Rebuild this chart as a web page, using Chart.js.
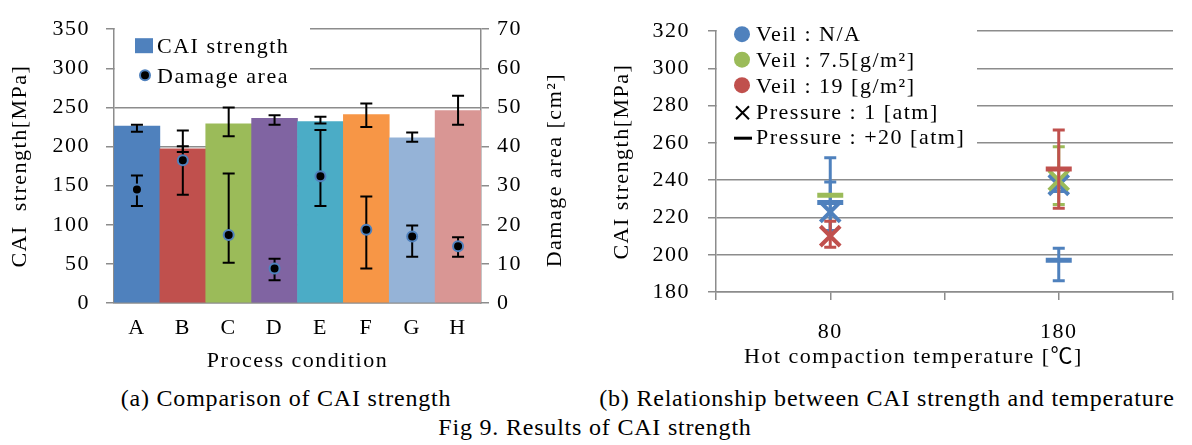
<!DOCTYPE html>
<html>
<head>
<meta charset="utf-8">
<script src="https://cdn.jsdelivr.net/npm/chart.js@4.4.1/dist/chart.umd.min.js"></script>
<style>
  html, body { margin: 0; padding: 0; background: #fff; }
  #page { position: relative; width: 1192px; height: 445px; overflow: hidden; background: #fff; }
  canvas { position: absolute; top: 0; }
  #cai { left: 0; }
  #temp { left: 585px; }
  .cap {
    position: absolute; transform: translateX(-50%); white-space: nowrap;
    font: 24px 'Liberation Serif', serif; letter-spacing: 0.8px; line-height: 26px; color: #000;
  }
</style>
</head>
<body>
<div id="page">
  <canvas id="cai" width="585" height="380"></canvas>
  <canvas id="temp" width="607" height="380"></canvas>
  <div class="cap" style="left:286px; top:385px">(a) Comparison of CAI strength</div>
  <div class="cap" style="left:887px; top:385px">(b) Relationship between CAI strength and temperature</div>
  <div class="cap" style="left:595px; top:414px">Fig 9. Results of CAI strength</div>
</div>
<script>
// (a) CAI strength for each process condition, damage area on the second axis
const conditions = ['A', 'B', 'C', 'D', 'E', 'F', 'G', 'H'];
const caiStrength = [226, 197, 229, 236, 232, 241, 211, 246];
const caiHigh = [228, 200.5, 250, 240, 238, 255, 218, 265];
const caiLow = [219, 193, 213, 228, 229.5, 225, 206, 228];
const damageArea = [29, 36.5, 17.4, 8.8, 32.4, 18.7, 17, 14.5];
const damageHigh = [32.6, 44.1, 33.1, 11.3, 44.2, 27.2, 19.8, 16.8];
const damageLow = [24.8, 27.7, 10.3, 5.8, 24.8, 8.8, 11.8, 11.8];

// (b) CAI strength against hot compaction temperature
const temps = [80, 180];
const naAtm1 = [223, 237.5];
const naAtm1High = [239, 241];
const naAtm1Low = [213, 234];
const naAtm20 = [228, 197];
const naAtm20High = [252, 203.5];
const naAtm20Low = [213, 186];
const veil75Atm1 = [null, 240];
const veil75Atm1High = [null, 258];
const veil75Atm1Low = [null, 227];
const veil75Atm20 = [232, null];
const veil19Atm1 = [210, null];
const veil19Atm1High = [218, null];
const veil19Atm1Low = [204, null];
const veil19Atm20 = [null, 246];
const veil19Atm20High = [null, 267];
const veil19Atm20Low = [null, 225];

const veilLabels = ['Veil : N/A', 'Veil : 7.5[g/m²]', 'Veil : 19 [g/m²]'];
const pressureLabels = ['Pressure : 1 [atm]', 'Pressure : +20 [atm]'];

const BLUE = '#4F81BD', RED = '#C0504D', GREEN = '#9BBB59';
const barColors = [BLUE, RED, GREEN, '#8064A2', '#4BACC6', '#F79646', '#95B3D7', '#D99694'];
const GRAY = '#8c8c8c';
const FAMILY = "'Liberation Serif', 'Noto Sans CJK JP', serif";
const FONT = "22px " + FAMILY;

Chart.defaults.font.family = FAMILY;
Chart.defaults.font.size = 22;
Chart.defaults.color = '#000';

// wide letter spacing for every text on the canvases
const spacing = {
  id: 'spacing',
  beforeUpdate(chart) { chart.ctx.letterSpacing = '1.5px'; },
  beforeDraw(chart) { chart.ctx.letterSpacing = '1.5px'; }
};

function drawErrors(chart, index) {
  const ds = chart.data.datasets[index];
  const eb = ds.errorBars;
  const meta = chart.getDatasetMeta(index);
  const yScale = chart.scales[meta.yAxisID];
  const ctx = chart.ctx;
  ctx.save();
  ctx.strokeStyle = eb.color;
  ctx.lineWidth = eb.width;
  meta.data.forEach((el, i) => {
    const hi = eb.hi[i], lo = eb.lo[i];
    if (hi == null || lo == null) return;
    const x = el.x;
    const y1 = yScale.getPixelForValue(hi);
    const y2 = yScale.getPixelForValue(lo);
    ctx.beginPath();
    ctx.moveTo(x, y1); ctx.lineTo(x, y2);
    ctx.moveTo(x - eb.cap, y1); ctx.lineTo(x + eb.cap, y1);
    ctx.moveTo(x - eb.cap, y2); ctx.lineTo(x + eb.cap, y2);
    ctx.stroke();
  });
  ctx.restore();
}

const errorBars = {
  id: 'errorBars',
  beforeDatasetDraw(chart, args) {
    const eb = chart.data.datasets[args.index].errorBars;
    if (eb && !eb.front) drawErrors(chart, args.index);
  },
  afterDatasetDraw(chart, args) {
    const eb = chart.data.datasets[args.index].errorBars;
    if (eb && eb.front) drawErrors(chart, args.index);
  }
};

const caiLegend = {
  id: 'caiLegend',
  beforeDatasetsDraw(chart) {
    const { ctx, chartArea: a } = chart;
    const [pts, bars] = chart.data.datasets;
    ctx.save();
    ctx.fillStyle = '#fff';
    ctx.fillRect(a.left + 1, a.top - 8, 195, 76);
    ctx.fillStyle = bars.backgroundColor[0];
    ctx.fillRect(a.left + 21, a.top + 9, 18, 15);
    ctx.beginPath();
    ctx.arc(a.left + 31, a.top + 46, 5, 0, Math.PI * 2);
    ctx.fillStyle = '#000';
    ctx.fill();
    ctx.lineWidth = 2;
    ctx.strokeStyle = BLUE;
    ctx.stroke();
    ctx.font = FONT;
    ctx.fillStyle = '#000';
    ctx.textBaseline = 'alphabetic';
    ctx.fillText(bars.label, a.left + 43, a.top + 24);
    ctx.fillText(pts.label, a.left + 43, a.top + 54);
    ctx.restore();
  },
  afterDraw(chart) {
    // right axis title reads bottom to top like the left one
    const { ctx, chartArea: a } = chart;
    const s = chart.scales.y2;
    ctx.save();
    ctx.font = FONT;
    ctx.fillStyle = '#000';
    ctx.translate(s.right - 30, (a.top + a.bottom) / 2 + 4);
    ctx.rotate(-Math.PI / 2);
    ctx.textAlign = 'center';
    ctx.textBaseline = 'middle';
    ctx.fillText('Damage area [cm²]', 0, 0);
    ctx.restore();
  }
};

new Chart(document.getElementById('cai'), {
  type: 'bar',
  data: {
    labels: conditions,
    datasets: [
      {
        type: 'line', label: 'Damage area', data: damageArea, yAxisID: 'y2',
        showLine: false, order: 0,
        pointRadius: 5, pointBorderWidth: 2,
        pointBackgroundColor: '#000', pointBorderColor: BLUE,
        errorBars: { hi: damageHigh, lo: damageLow, color: '#000', width: 2, cap: 6 }
      },
      {
        label: 'CAI strength', data: caiStrength, yAxisID: 'y', order: 1,
        backgroundColor: barColors, borderWidth: 0,
        barPercentage: 1, categoryPercentage: 1,
        errorBars: { hi: caiHigh, lo: caiLow, color: '#000', width: 2, cap: 6, front: true }
      }
    ]
  },
  options: {
    responsive: false,
    animation: false,
    devicePixelRatio: 1,
    layout: { padding: { top: 23, left: 0, right: 0, bottom: 0 } },
    plugins: { legend: { display: false }, tooltip: { enabled: false } },
    scales: {
      x: {
        grid: { display: false, drawTicks: false },
        border: { color: GRAY, width: 1.5 },
        ticks: { padding: 12 },
        title: { display: true, text: 'Process condition', padding: { top: 0, bottom: 6 } },
        afterFit(s) { s.height = 77; }
      },
      y: {
        position: 'left', min: 0, max: 350,
        ticks: { stepSize: 50, padding: 16 },
        grid: { color: GRAY, lineWidth: 1.5, tickLength: 8 },
        border: { color: GRAY, width: 1.5 },
        title: { display: true, text: 'CAI  strength[MPa]', padding: { top: 7 } },
        afterFit(s) { s.width = 114; }
      },
      y2: {
        position: 'right', min: 0, max: 70,
        ticks: { stepSize: 10, padding: 8 },
        grid: { drawOnChartArea: false, color: GRAY, lineWidth: 1.5, tickLength: 8 },
        border: { color: GRAY, width: 1.5 },
        afterFit(s) { s.width = 104; }
      }
    }
  },
  plugins: [spacing, errorBars, caiLegend]
});

function series(label, values, hi, lo, color, style, order) {
  const dash = style === 'line';
  return {
    label, order,
    data: temps.map((t, i) => ({ x: t, y: values[i] })),
    pointStyle: style,
    pointRadius: dash ? 13 : 14,
    pointBorderWidth: dash ? 5 : 4,
    borderColor: color,
    backgroundColor: color,
    errorBars: hi ? { hi, lo, color, width: 3, cap: 6 } : null
  };
}

const tempLegend = {
  id: 'tempLegend',
  beforeDatasetsDraw(chart) {
    const { ctx, chartArea: a } = chart;
    ctx.save();
    ctx.fillStyle = '#fff';
    ctx.fillRect(a.left + 1, a.top - 10, 260, 123);
    [BLUE, GREEN, RED].forEach((c, i) => {
      ctx.beginPath();
      ctx.arc(a.left + 26, a.top + 3 + i * 25.5, 8, 0, Math.PI * 2);
      ctx.fillStyle = c;
      ctx.fill();
    });
    ctx.strokeStyle = '#000';
    ctx.lineWidth = 2;
    ctx.beginPath();
    ctx.moveTo(a.left + 20, a.top + 75); ctx.lineTo(a.left + 33, a.top + 88);
    ctx.moveTo(a.left + 33, a.top + 75); ctx.lineTo(a.left + 20, a.top + 88);
    ctx.stroke();
    ctx.lineWidth = 3;
    ctx.beginPath();
    ctx.moveTo(a.left + 18, a.top + 107); ctx.lineTo(a.left + 36, a.top + 107);
    ctx.stroke();
    ctx.font = FONT;
    ctx.fillStyle = '#000';
    ctx.textBaseline = 'alphabetic';
    veilLabels.concat(pressureLabels).forEach((t, i) => {
      ctx.fillText(t, a.left + 40, a.top + 10 + i * 25.8);
    });
    ctx.restore();
  },
  afterDraw(chart) {
    const { ctx, chartArea: a } = chart;
    const s = chart.scales.x;
    ctx.save();
    ctx.font = FONT;
    ctx.fillStyle = '#000';
    ctx.textAlign = 'center';
    ctx.textBaseline = 'middle';
    ctx.fillText('Hot compaction temperature [℃]', (a.left + a.right) / 2 - 31, s.bottom - 23);
    ctx.restore();
  }
};

new Chart(document.getElementById('temp'), {
  type: 'scatter',
  data: {
    datasets: [
      series(pressureLabels[0], naAtm1, naAtm1High, naAtm1Low, BLUE, 'crossRot', 3),
      series(pressureLabels[1], naAtm20, naAtm20High, naAtm20Low, BLUE, 'line', 3),
      series(pressureLabels[0], veil75Atm1, veil75Atm1High, veil75Atm1Low, GREEN, 'crossRot', 2),
      series(pressureLabels[1], veil75Atm20, null, null, GREEN, 'line', 2),
      series(pressureLabels[0], veil19Atm1, veil19Atm1High, veil19Atm1Low, RED, 'crossRot', 1),
      series(pressureLabels[1], veil19Atm20, veil19Atm20High, veil19Atm20Low, RED, 'line', 1)
    ]
  },
  options: {
    responsive: false,
    animation: false,
    devicePixelRatio: 1,
    layout: { padding: { top: 15, left: 0, right: 19, bottom: 0 } },
    plugins: { legend: { display: false }, tooltip: { enabled: false } },
    scales: {
      x: {
        type: 'linear', min: 30, max: 230,
        ticks: { stepSize: 50, padding: 19, callback: v => (temps.includes(v) ? v : '') },
        grid: { drawOnChartArea: false, color: GRAY, lineWidth: 1.5, tickLength: 8 },
        border: { color: GRAY, width: 1.5 },
        afterFit(s) { s.height = 88; }
      },
      y: {
        min: 180, max: 320,
        ticks: { stepSize: 20, padding: 18 },
        grid: { color: GRAY, lineWidth: 1.5, tickLength: 8 },
        border: { color: GRAY, width: 1.5 },
        title: { display: true, text: 'CAI strength[MPa]', padding: { top: 24 } },
        afterFit(s) { s.width = 131; }
      }
    }
  },
  plugins: [spacing, errorBars, tempLegend]
});
</script>
</body>
</html>
